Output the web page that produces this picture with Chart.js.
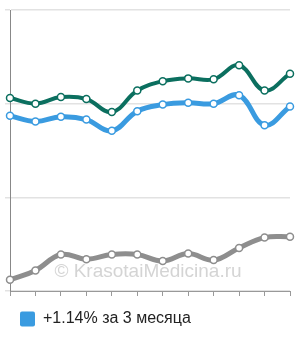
<!DOCTYPE html>
<html>
<head>
<meta charset="utf-8">
<script src="https://cdn.jsdelivr.net/npm/chart.js@4"></script>
<style>
  html, body { margin: 0; padding: 0; background: #fff; }
  #wrap { width: 300px; height: 340px; }
</style>
</head>
<body>
<div id="wrap"><canvas id="myChart" width="300" height="340"></canvas></div>
<script>
var labels = ["1", "2", "3", "4", "5", "6", "7", "8", "9", "10", "11", "12"];
var greenValues = [206, 200, 207, 205, 191, 214, 224, 227, 226, 241, 214, 232];
var blueValues = [187, 181, 186, 183, 171, 192, 199, 201, 200, 209, 177, 197];
var grayValues = [12, 22, 39, 34, 39, 39, 32, 40, 33, 46, 57, 58];
var legendText = "+1.14% за 3 месяца";

// водяной знак
var watermark = {
    id: "watermark",
    afterDatasetsDraw: function (chart) {
        var ctx = chart.ctx;
        ctx.save();
        ctx.font = "19px 'Liberation Sans', Arial, sans-serif";
        ctx.fillStyle = "rgba(170,170,170,0.5)";
        ctx.textAlign = "center";
        ctx.textBaseline = "middle";
        ctx.fillText("© KrasotaiMedicina.ru", 148, 272);
        ctx.restore();
    }
};

function line(label, data, color, width) {
    return {
        label: label,
        data: data,
        borderColor: color,
        backgroundColor: color,
        borderWidth: width,
        tension: 0.4,
        pointRadius: 3.5,
        pointBorderWidth: 1.5,
        pointBorderColor: color,
        pointBackgroundColor: "#fff",
        fill: false
    };
}

new Chart("myChart", {
    type: "line",
    data: {
        labels: labels,
        datasets: [
            line("green", greenValues, "#0b6f5f", 4),
            line(legendText, blueValues, "#3a9be0", 5),
            line("gray", grayValues, "#8e8e8e", 5)
        ]
    },
    plugins: [watermark],
    options: {
        responsive: false,
        animation: false,
        layout: { padding: { left: 5, right: 10, top: 10, bottom: 3 } },
        plugins: {
            tooltip: { enabled: false },
            legend: {
                position: "bottom",
                align: "start",
                labels: {
                    filter: function (item) { return item.text === legendText; },
                    boxWidth: 15,
                    boxHeight: 15,
                    padding: 15,
                    color: "#222",
                    useBorderRadius: true,
                    borderRadius: 2,
                    font: { family: "'Liberation Sans', Arial, sans-serif", size: 16 },
                    generateLabels: function (chart) {
                        var items = Chart.defaults.plugins.legend.labels.generateLabels(chart);
                        items.forEach(function (it) { it.lineWidth = 0; it.fillStyle = "#3a9be0"; });
                        return items;
                    }
                }
            }
        },
        scales: {
            x: {
                offset: false,
                grid: { drawOnChartArea: false, tickLength: 5, color: "#999" },
                border: { color: "#999" },
                ticks: { display: false }
            },
            y: {
                min: 0,
                max: 300,
                ticks: { display: false, stepSize: 100 },
                grid: { tickLength: 5, color: "#e2e2e2", lineWidth: 1.5 },
                border: { color: "#888" }
            }
        }
    }
});
</script>
</body>
</html>
